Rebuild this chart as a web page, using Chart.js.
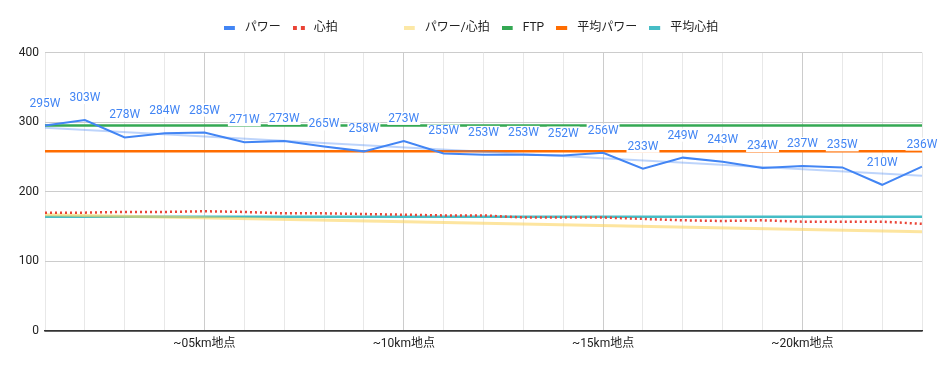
<!DOCTYPE html>
<html>
<head>
<meta charset="utf-8">
<script src="https://cdn.jsdelivr.net/npm/chart.js@4"></script>
<style>
  body { margin: 0; background: #fff; }
  #wrap { width: 943px; height: 371px; position: relative; }
</style>
</head>
<body>
<div id="wrap"><canvas id="chart"></canvas></div>
<script>
// data
const labels = ['~01km地点', '~02km地点', '~03km地点', '~04km地点', '~05km地点', '~06km地点', '~07km地点', '~08km地点',
    '~09km地点', '~10km地点', '~11km地点', '~12km地点', '~13km地点', '~14km地点', '~15km地点', '~16km地点',
    '~17km地点', '~18km地点', '~19km地点', '~20km地点', '~21km地点', '~22km地点', '~23km地点'];
const power = [295, 303, 278, 284, 285, 271, 273, 265, 258, 273, 255, 253, 253, 252, 256, 233, 249, 243, 234, 237, 235, 210, 236];
const heartRate = [170, 170, 171, 171, 172, 171, 169, 169, 168, 167, 166, 166, 163, 163, 163, 161, 159, 158, 159, 157, 157, 157, 154];
// trend lines: only the two ends are read, the line is drawn between them
const powerTrend = [292, null, null, null, null, null, null, null, null, null, null, null, null, null, null, null, null, null, null, null, null, null, 223];
const ratio = [167, null, null, null, null, null, null, null, null, null, null, null, null, null, null, null, null, null, null, null, null, null, 142.5];
const ftp = Array(labels.length).fill(295);
const avgPower = Array(labels.length).fill(258);
const avgHeart = Array(labels.length).fill(164);
const yTicks = [0, 100, 200, 300, 400];

const FONT = "Roboto, 'Noto Sans CJK JP', sans-serif";

function legendMark(color, dotted) {
    let c = document.createElement('canvas');
    c.width = 15;
    c.height = 4;
    let g = c.getContext('2d');
    if (color) {
        g.fillStyle = color;
        if (dotted) {
            g.fillRect(0, 0, 4, 4);
            g.fillRect(8, 0, 4, 4);
        } else {
            g.fillRect(0, 0, 11, 4);
        }
    }
    return c;
}

const marks = [
    legendMark('#4285F4'),
    legendMark('#EA4335', true),
    legendMark(null),
    legendMark('#FCE8A6'),
    legendMark('#34A853'),
    legendMark('#FF6D01'),
    legendMark('#46BDC6')
];

// white boxed "xxxW" labels above the power points
const powerLabels = {
    id: 'powerLabels',
    afterDatasetsDraw(chart) {
        let ctx = chart.ctx;
        let meta = chart.getDatasetMeta(0);
        ctx.save();
        ctx.font = '12px ' + FONT;
        ctx.textAlign = 'center';
        ctx.textBaseline = 'middle';
        meta.data.forEach((pt, i) => {
            let text = power[i] + 'W';
            let w = ctx.measureText(text).width;
            let y = pt.y - 22;
            ctx.fillStyle = '#fff';
            ctx.fillRect(pt.x - w / 2 - 1, y - 7, w + 2, 13);
            ctx.fillStyle = '#4285F4';
            ctx.fillText(text, pt.x, y);
        });
        ctx.restore();
    }
};

// more room under the legend, and centre it on the whole page
const legendSpace = {
    id: 'legendSpace',
    afterInit(chart) {
        let lg = chart.legend;
        let fit = lg.fit;
        lg.fit = function () {
            fit.call(this);
            this.height += 9;
        };
        let draw = lg.draw;
        lg.draw = function () {
            this.ctx.save();
            this.ctx.translate(10, 0);
            draw.call(this);
            this.ctx.restore();
        };
    }
};

new Chart(document.getElementById('chart').getContext('2d'), {
    type: 'line',
    data: {
        labels: labels,
        datasets: [
            { label: 'パワー', data: power, borderColor: '#4285F4', borderWidth: 2, pointRadius: 0 },
            { label: '心拍', data: heartRate, borderColor: '#EA4335', borderWidth: 2.5, borderDash: [2, 3], pointRadius: 0 },
            { label: '       ', data: powerTrend, borderColor: 'rgba(66,133,244,0.35)', borderWidth: 2, pointRadius: 0, spanGaps: true },
            { label: 'パワー/心拍', data: ratio, borderColor: 'rgba(251,212,95,0.6)', borderWidth: 3, pointRadius: 0, spanGaps: true },
            { label: 'FTP', data: ftp, borderColor: '#34A853', borderWidth: 2.5, pointRadius: 0 },
            { label: '平均パワー', data: avgPower, borderColor: '#FF6D01', borderWidth: 2.5, pointRadius: 0 },
            { label: '平均心拍', data: avgHeart, borderColor: '#46BDC6', borderWidth: 2.5, pointRadius: 0 }
        ]
    },
    options: {
        responsive: true,
        maintainAspectRatio: false,
        animation: false,
        layout: { padding: { top: 9.5, right: 21, left: 0, bottom: 0 } },
        plugins: {
            tooltip: { enabled: false },
            legend: {
                position: 'top',
                labels: {
                    usePointStyle: true,
                    pointStyleWidth: 15,
                    padding: 12,
                    color: '#222',
                    font: { family: FONT, size: 12 },
                    generateLabels: chart => {
                        let items = Chart.defaults.plugins.legend.labels.generateLabels(chart);
                        items.forEach(it => { it.pointStyle = marks[it.datasetIndex]; });
                        return items;
                    }
                }
            }
        },
        scales: {
            x: {
                offset: false,
                grid: {
                    drawTicks: false,
                    color: c => (c.index % 5 === 4 ? '#cccccc' : '#e8e8e8')
                },
                border: { color: '#333', width: 1.5 },
                ticks: {
                    autoSkip: false,
                    maxRotation: 0,
                    padding: 6,
                    color: '#222',
                    font: { family: FONT, size: 12 },
                    callback: (v, i) => (i % 5 === 4 ? labels[i] : '')
                },
                afterFit: s => { s.height = 40; }
            },
            y: {
                min: 0,
                max: 400,
                grid: {
                    drawTicks: false,
                    color: c => (c.tick.value === 0 ? '#333' : '#cccccc'),
                    lineWidth: c => (c.tick.value === 0 ? 1.5 : 1)
                },
                border: { display: false },
                afterBuildTicks: s => { s.ticks = yTicks.map(v => ({ value: v })); },
                ticks: {
                    padding: 6,
                    color: '#222',
                    font: { family: FONT, size: 12 }
                },
                afterFit: s => { s.width = 45; }
            }
        }
    },
    plugins: [powerLabels, legendSpace]
});
</script>
</body>
</html>
